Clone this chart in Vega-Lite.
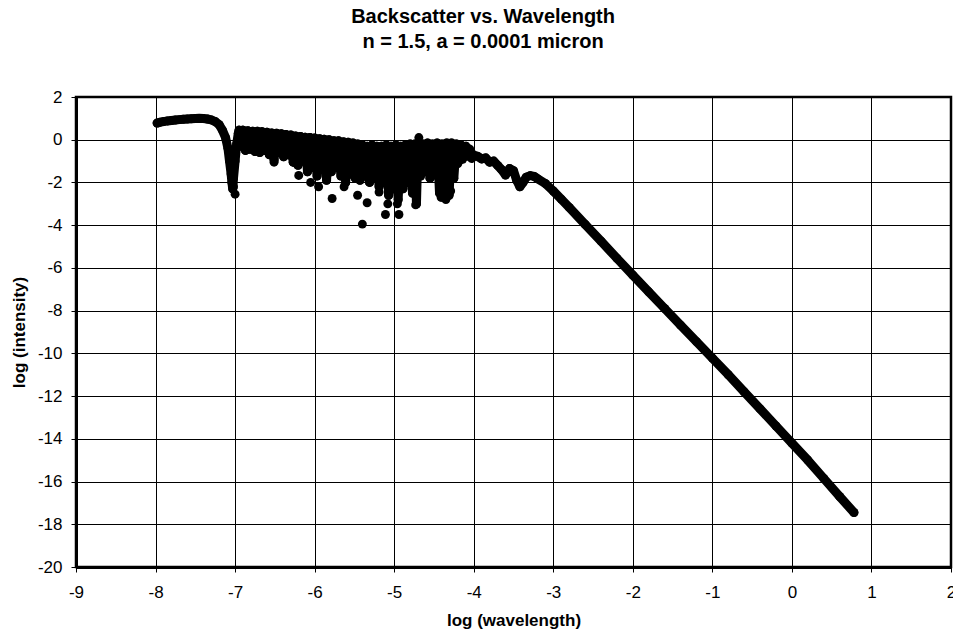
{
  "$schema": "https://vega.github.io/schema/vega-lite/v6.json",
  "width": 875,
  "height": 470,
  "autosize": {"type": "none"},
  "padding": {"left": 76, "top": 97, "right": 2, "bottom": 66},
  "background": "white",
  "config": {
    "font": "Liberation Sans",
    "view": {"stroke": "black", "strokeWidth": 2.5},
    "axis": {
      "grid": true, "gridColor": "black", "gridWidth": 1, "gridOpacity": 1,
      "domainColor": "black", "domainWidth": 3,
      "tickColor": "black", "tickSize": 5, "tickWidth": 1,
      "labelFont": "Liberation Sans", "labelFontSize": 17, "labelColor": "black",
      "labelExpr": "'' + datum.value", "labelFlush": false, "labelOverlap": false,
      "titleFont": "Liberation Sans", "titleFontSize": 17, "titleFontWeight": "bold", "titleColor": "black"
    }
  },
  "title": {
    "text": ["Backscatter vs. Wavelength", "n = 1.5, a = 0.0001 micron"],
    "font": "Liberation Sans", "fontSize": 20, "fontWeight": "bold", "color": "black",
    "anchor": "middle", "frame": "bounds", "offset": 36, "lineHeight": 25
  },
  "datasets": {
    "curve": [
      {"lw": -7.98, "li": 0.78}, {"lw": -7.94, "li": 0.82}, {"lw": -7.9, "li": 0.85}, {"lw": -7.85, "li": 0.88},
      {"lw": -7.8, "li": 0.9}, {"lw": -7.75, "li": 0.92}, {"lw": -7.7, "li": 0.94}, {"lw": -7.65, "li": 0.96},
      {"lw": -7.6, "li": 0.97}, {"lw": -7.55, "li": 0.98}, {"lw": -7.5, "li": 0.99}, {"lw": -7.45, "li": 1.0},
      {"lw": -7.4, "li": 0.99}, {"lw": -7.35, "li": 0.97}, {"lw": -7.3, "li": 0.93}, {"lw": -7.25, "li": 0.85},
      {"lw": -7.2, "li": 0.7}, {"lw": -7.16, "li": 0.45}, {"lw": -7.12, "li": 0.1}, {"lw": -7.09, "li": -0.4},
      {"lw": -7.07, "li": -1.0}, {"lw": -7.05, "li": -1.6}, {"lw": -7.04, "li": -2.0}, {"lw": -7.03, "li": -2.3},
      {"lw": -7.02, "li": -1.8}, {"lw": -7.0, "li": -1.0}, {"lw": -6.98, "li": -0.2}, {"lw": -6.96, "li": 0.3},
      {"lw": -6.95, "li": 0.45}, {"lw": -6.93, "li": -0.3}, {"lw": -6.9, "li": 0.45}, {"lw": -6.87, "li": -0.5},
      {"lw": -6.84, "li": 0.42}, {"lw": -6.81, "li": -0.45}, {"lw": -6.78, "li": 0.4}, {"lw": -6.75, "li": -0.55},
      {"lw": -6.72, "li": 0.4}, {"lw": -6.69, "li": -0.6}, {"lw": -6.66, "li": 0.38}, {"lw": -6.63, "li": -0.5},
      {"lw": -6.6, "li": 0.35}, {"lw": -6.57, "li": -0.7}, {"lw": -6.54, "li": 0.32}, {"lw": -6.51, "li": -0.95},
      {"lw": -6.48, "li": 0.3}, {"lw": -6.45, "li": -0.6}, {"lw": -6.42, "li": 0.28}, {"lw": -6.39, "li": -0.8},
      {"lw": -6.36, "li": 0.25}, {"lw": -6.33, "li": -0.7}, {"lw": -6.3, "li": 0.22}, {"lw": -6.27, "li": -1.05},
      {"lw": -6.24, "li": 0.18}, {"lw": -6.21, "li": -1.2}, {"lw": -6.18, "li": 0.15}, {"lw": -6.15, "li": -1.0},
      {"lw": -6.12, "li": 0.12}, {"lw": -6.09, "li": -1.5}, {"lw": -6.06, "li": 0.1}, {"lw": -6.03, "li": -1.3},
      {"lw": -6.0, "li": 0.08}, {"lw": -5.97, "li": -1.7}, {"lw": -5.94, "li": 0.05}, {"lw": -5.91, "li": -1.4},
      {"lw": -5.88, "li": 0.02}, {"lw": -5.85, "li": -1.9}, {"lw": -5.82, "li": 0.0}, {"lw": -5.79, "li": -1.5},
      {"lw": -5.76, "li": -0.05}, {"lw": -5.73, "li": -1.3}, {"lw": -5.7, "li": -0.05}, {"lw": -5.67, "li": -1.7},
      {"lw": -5.64, "li": -0.1}, {"lw": -5.61, "li": -2.0}, {"lw": -5.58, "li": -0.12}, {"lw": -5.55, "li": -1.6},
      {"lw": -5.52, "li": -0.15}, {"lw": -5.49, "li": -1.8}, {"lw": -5.46, "li": -0.2}, {"lw": -5.43, "li": -1.9},
      {"lw": -5.4, "li": -0.25}, {"lw": -5.37, "li": -1.7}, {"lw": -5.34, "li": -0.3}, {"lw": -5.31, "li": -2.0},
      {"lw": -5.28, "li": -0.25}, {"lw": -5.25, "li": -1.8}, {"lw": -5.22, "li": -0.3}, {"lw": -5.19, "li": -2.2},
      {"lw": -5.16, "li": -0.3}, {"lw": -5.13, "li": -2.0}, {"lw": -5.1, "li": -0.25}, {"lw": -5.07, "li": -2.6},
      {"lw": -5.04, "li": -0.3}, {"lw": -5.01, "li": -2.3}, {"lw": -4.98, "li": -0.25}, {"lw": -4.95, "li": -2.8},
      {"lw": -4.92, "li": -0.3}, {"lw": -4.89, "li": -2.3}, {"lw": -4.86, "li": -0.25}, {"lw": -4.83, "li": -2.0},
      {"lw": -4.8, "li": -0.2}, {"lw": -4.77, "li": -2.5}, {"lw": -4.74, "li": -0.2}, {"lw": -4.72, "li": -3.0},
      {"lw": -4.7, "li": -0.2}, {"lw": -4.67, "li": -1.7}, {"lw": -4.64, "li": -0.2}, {"lw": -4.61, "li": -1.5},
      {"lw": -4.58, "li": -0.15}, {"lw": -4.55, "li": -1.8}, {"lw": -4.52, "li": -0.2}, {"lw": -4.49, "li": -1.6},
      {"lw": -4.46, "li": -0.15}, {"lw": -4.43, "li": -2.5}, {"lw": -4.4, "li": -0.2}, {"lw": -4.37, "li": -2.7},
      {"lw": -4.34, "li": -0.15}, {"lw": -4.31, "li": -2.6}, {"lw": -4.28, "li": -0.15}, {"lw": -4.25, "li": -1.8},
      {"lw": -4.22, "li": -0.2}, {"lw": -4.19, "li": -1.0}, {"lw": -4.16, "li": -0.25}, {"lw": -4.13, "li": -0.8},
      {"lw": -4.1, "li": -0.3}, {"lw": -4.05, "li": -0.55}, {"lw": -4.0, "li": -0.72}, {"lw": -3.95, "li": -0.78},
      {"lw": -3.9, "li": -0.9}, {"lw": -3.85, "li": -0.85}, {"lw": -3.8, "li": -1.05}, {"lw": -3.75, "li": -1.0},
      {"lw": -3.7, "li": -1.2}, {"lw": -3.65, "li": -1.4}, {"lw": -3.6, "li": -1.65}, {"lw": -3.55, "li": -1.35},
      {"lw": -3.5, "li": -1.45}, {"lw": -3.46, "li": -1.9}, {"lw": -3.42, "li": -2.2}, {"lw": -3.38, "li": -2.0},
      {"lw": -3.34, "li": -1.75}, {"lw": -3.29, "li": -1.68}, {"lw": -3.24, "li": -1.72}, {"lw": -3.2, "li": -1.82},
      {"lw": -3.1, "li": -2.05}, {"lw": -3.0, "li": -2.4}, {"lw": -2.9, "li": -2.78}, {"lw": -2.8, "li": -3.17},
      {"lw": -2.6, "li": -3.96}, {"lw": -2.4, "li": -4.75}, {"lw": -2.2, "li": -5.55}, {"lw": -2.0, "li": -6.34},
      {"lw": -1.8, "li": -7.12}, {"lw": -1.6, "li": -7.9}, {"lw": -1.4, "li": -8.68}, {"lw": -1.2, "li": -9.45},
      {"lw": -1.0, "li": -10.22}, {"lw": -0.8, "li": -11.0}, {"lw": -0.6, "li": -11.8}, {"lw": -0.4, "li": -12.6},
      {"lw": -0.2, "li": -13.4}, {"lw": 0.0, "li": -14.2}, {"lw": 0.2, "li": -15.0}, {"lw": 0.4, "li": -15.85},
      {"lw": 0.6, "li": -16.7}, {"lw": 0.78, "li": -17.45}
    ],
    "curve2": [
      {"lw": -6.935, "li": 0.2}, {"lw": -6.905, "li": -0.2}, {"lw": -6.875, "li": 0.3}, {"lw": -6.845, "li": -0.3},
      {"lw": -6.815, "li": 0.25}, {"lw": -6.785, "li": -0.35}, {"lw": -6.755, "li": 0.3}, {"lw": -6.725, "li": -0.4},
      {"lw": -6.695, "li": 0.25}, {"lw": -6.665, "li": -0.45}, {"lw": -6.635, "li": 0.25}, {"lw": -6.605, "li": -0.4},
      {"lw": -6.575, "li": 0.2}, {"lw": -6.545, "li": -0.55}, {"lw": -6.515, "li": 0.2}, {"lw": -6.485, "li": -0.5},
      {"lw": -6.455, "li": 0.15}, {"lw": -6.425, "li": -0.6}, {"lw": -6.395, "li": 0.15}, {"lw": -6.365, "li": -0.55},
      {"lw": -6.335, "li": 0.1}, {"lw": -6.305, "li": -0.7}, {"lw": -6.275, "li": 0.05}, {"lw": -6.245, "li": -0.75},
      {"lw": -6.215, "li": 0.05}, {"lw": -6.185, "li": -0.8}, {"lw": -6.155, "li": 0.0}, {"lw": -6.125, "li": -0.9},
      {"lw": -6.095, "li": -0.05}, {"lw": -6.065, "li": -1.0}, {"lw": -6.035, "li": -0.05}, {"lw": -6.005, "li": -1.1},
      {"lw": -5.975, "li": -0.1}, {"lw": -5.945, "li": -1.0}, {"lw": -5.915, "li": -0.1}, {"lw": -5.885, "li": -1.2},
      {"lw": -5.855, "li": -0.15}, {"lw": -5.825, "li": -1.1}, {"lw": -5.795, "li": -0.15}, {"lw": -5.765, "li": -1.2},
      {"lw": -5.735, "li": -0.2}, {"lw": -5.705, "li": -1.3}, {"lw": -5.675, "li": -0.2}, {"lw": -5.645, "li": -1.2},
      {"lw": -5.615, "li": -0.25}, {"lw": -5.585, "li": -1.4}, {"lw": -5.555, "li": -0.25}, {"lw": -5.525, "li": -1.3},
      {"lw": -5.495, "li": -0.3}, {"lw": -5.465, "li": -1.4}, {"lw": -5.435, "li": -0.3}, {"lw": -5.405, "li": -1.5},
      {"lw": -5.375, "li": -0.35}, {"lw": -5.345, "li": -1.4}, {"lw": -5.315, "li": -0.35}, {"lw": -5.285, "li": -1.5},
      {"lw": -5.255, "li": -0.4}, {"lw": -5.225, "li": -1.6}, {"lw": -5.195, "li": -0.4}, {"lw": -5.165, "li": -1.5},
      {"lw": -5.135, "li": -0.4}, {"lw": -5.105, "li": -1.7}, {"lw": -5.075, "li": -0.4}, {"lw": -5.045, "li": -1.6},
      {"lw": -5.015, "li": -0.4}, {"lw": -4.985, "li": -1.8}, {"lw": -4.955, "li": -0.4}, {"lw": -4.925, "li": -1.7},
      {"lw": -4.895, "li": -0.35}, {"lw": -4.865, "li": -1.6}, {"lw": -4.835, "li": -0.35}, {"lw": -4.805, "li": -1.8},
      {"lw": -4.775, "li": -0.3}, {"lw": -4.745, "li": -1.5}, {"lw": -4.715, "li": -0.3}, {"lw": -4.685, "li": -1.2},
      {"lw": -4.655, "li": -0.3}, {"lw": -4.625, "li": -1.1}, {"lw": -4.595, "li": -0.3}, {"lw": -4.565, "li": -1.3},
      {"lw": -4.535, "li": -0.3}, {"lw": -4.505, "li": -1.2}, {"lw": -4.475, "li": -0.3}, {"lw": -4.445, "li": -1.5},
      {"lw": -4.415, "li": -0.3}, {"lw": -4.385, "li": -1.8}, {"lw": -4.355, "li": -0.3}, {"lw": -4.325, "li": -1.9},
      {"lw": -4.295, "li": -0.3}, {"lw": -4.265, "li": -1.4}, {"lw": -4.235, "li": -0.35}, {"lw": -4.205, "li": -1.1},
      {"lw": -4.175, "li": -0.4}, {"lw": -4.145, "li": -0.9}, {"lw": -4.115, "li": -0.45}, {"lw": -4.085, "li": -0.75},
      {"lw": -4.055, "li": -0.45}, {"lw": -4.025, "li": -0.85}
    ],
    "scatter": [
      {"lw": -7.0, "li": -2.55}, {"lw": -7.02, "li": -2.2}, {"lw": -6.51, "li": -1.05}, {"lw": -6.26, "li": -1.05},
      {"lw": -6.2, "li": -1.67}, {"lw": -6.05, "li": -2.0}, {"lw": -5.95, "li": -2.2}, {"lw": -5.78, "li": -2.75},
      {"lw": -5.63, "li": -2.2}, {"lw": -5.46, "li": -2.6}, {"lw": -5.4, "li": -3.95}, {"lw": -5.34, "li": -2.95},
      {"lw": -5.19, "li": -2.45}, {"lw": -5.11, "li": -3.5}, {"lw": -5.08, "li": -3.0}, {"lw": -4.96, "li": -3.0},
      {"lw": -4.94, "li": -3.5}, {"lw": -4.73, "li": -3.05}, {"lw": -4.69, "li": 0.1}, {"lw": -4.41, "li": -2.7},
      {"lw": -4.29, "li": -2.4}, {"lw": -4.35, "li": -2.8}
    ]
  },
  "layer": [
    {
      "data": {"name": "curve"},
      "mark": {"type": "line", "color": "black", "strokeWidth": 9, "strokeCap": "round", "strokeJoin": "round"},
      "encoding": {
        "x": {"field": "lw", "type": "quantitative", "scale": {"domain": [-9, 2], "nice": false},
          "axis": {"values": [-9, -8, -7, -6, -5, -4, -3, -2, -1, 0, 1, 2], "title": "log (wavelength)", "labelPadding": 12, "titlePadding": 12}},
        "y": {"field": "li", "type": "quantitative", "scale": {"domain": [-20, 2], "nice": false},
          "axis": {"values": [2, 0, -2, -4, -6, -8, -10, -12, -14, -16, -18, -20], "title": "log (intensity)", "labelPadding": 9, "titlePadding": 9}}
      }
    },
    {
      "data": {"name": "curve2"},
      "mark": {"type": "line", "color": "black", "strokeWidth": 10, "strokeCap": "round", "strokeJoin": "round"},
      "encoding": {
        "x": {"field": "lw", "type": "quantitative"},
        "y": {"field": "li", "type": "quantitative"}
      }
    },
    {
      "data": {"name": "curve"},
      "mark": {"type": "point", "filled": true, "color": "black", "opacity": 1, "size": 80},
      "encoding": {
        "x": {"field": "lw", "type": "quantitative"},
        "y": {"field": "li", "type": "quantitative"}
      }
    },
    {
      "data": {"name": "scatter"},
      "mark": {"type": "point", "filled": true, "color": "black", "opacity": 1, "size": 80},
      "encoding": {
        "x": {"field": "lw", "type": "quantitative"},
        "y": {"field": "li", "type": "quantitative"}
      }
    }
  ]
}
